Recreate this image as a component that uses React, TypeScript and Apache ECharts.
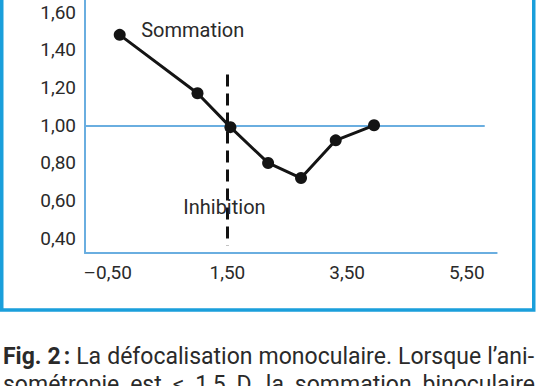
import React, { useEffect, useRef } from "react";
import * as echarts from "echarts";

const xValues = [-0.3, 1.0, 1.55, 2.18, 2.73, 3.31, 3.95];
const yValues = [1.48, 1.17, 0.99, 0.8, 0.72, 0.92, 1.0];
const xTickLabels = [-0.5, 1.5, 3.5, 5.5];
const yTickLabels = [0.4, 0.6, 0.8, 1.0, 1.2, 1.4, 1.6];
const referenceLevel = 1.0;
const referenceLineEnd = 5.8;
const thresholdX = 1.5;
const thresholdRange = [1.27, 0.36];
const annotations = [
  { name: "Sommation", x: 0.92, y: 1.506 },
  { name: "Inhibition", x: 1.45, y: 0.568 },
];
const captionLine1 = [
  { t: "Fig.", bold: true },
  { t: "2\u202f:", bold: true },
  { t: "La" },
  { t: "défocalisation" },
  { t: "monoculaire." },
  { t: "Lorsque" },
  { t: "l’ani-" },
];
const captionLine2 = [
  { t: "sométropie" },
  { t: "est" },
  { t: "≤" },
  { t: "1,5" },
  { t: "D," },
  { t: "la" },
  { t: "sommation" },
  { t: "binoculaire" },
];

const X_MIN = -0.88;
const X_MAX = 6.0;
const Y_MIN = 0.322;
const Y_MAX = 1.665;

const FONT = "Roboto";
const TEXT_COLOR = "#2a2a2a";
const AXIS_BLUE = "#6aaee0";
const FRAME_BLUE = "#1a9fdb";
const CAPTION_SIZE = 23;

const fmt = (v: number) => v.toFixed(2).replace(".", ",").replace("-", "–");

function justify(
  words: { t: string; bold?: boolean }[],
  left: number,
  right: number,
  y: number
) {
  const ctx = document.createElement("canvas").getContext("2d")!;
  const widths = words.map((w) => {
    ctx.font = `${w.bold ? "bold" : "normal"} ${CAPTION_SIZE}px ${FONT}`;
    return ctx.measureText(w.t).width;
  });
  const total = widths.reduce((a, b) => a + b, 0);
  const gap = (right - left - total) / (words.length - 1);
  let x = left;
  return words.map((w, i) => {
    const el = {
      type: "text",
      x,
      y,
      silent: true,
      style: {
        text: w.t,
        fontFamily: FONT,
        fontSize: CAPTION_SIZE,
        fontWeight: w.bold ? "bold" : "normal",
        fill: TEXT_COLOR,
        verticalAlign: "middle",
      },
    };
    x += widths[i] + gap;
    return el;
  });
}

export default function App() {
  const ref = useRef<HTMLDivElement>(null);
  useEffect(() => {
    if (!ref.current) return;
    const chart = echarts.init(ref.current, null, { renderer: "svg" });
    const data = xValues.map((x, i) => [x, yValues[i]]);
    chart.setOption({
      animation: false,
      backgroundColor: "#ffffff",
      grid: { left: 85, right: 39.3, top: 0, bottom: 133, outerBoundsMode: "none" },
      xAxis: {
        type: "value",
        min: X_MIN,
        max: X_MAX,
        splitLine: { show: false },
        axisLine: { show: true, onZero: false, lineStyle: { color: AXIS_BLUE, width: 2 } },
        axisTick: { show: false },
        axisLabel: {
          customValues: xTickLabels,
          formatter: (v: number) => fmt(v),
          color: TEXT_COLOR,
          fontFamily: FONT,
          fontSize: 19,
          margin: 10,
        },
      },
      yAxis: {
        type: "value",
        min: Y_MIN,
        max: Y_MAX,
        splitLine: { show: false },
        axisLine: { show: true, onZero: false, lineStyle: { color: AXIS_BLUE, width: 2 } },
        axisTick: { show: false },
        axisLabel: {
          customValues: yTickLabels,
          formatter: (v: number) => fmt(v),
          color: TEXT_COLOR,
          fontFamily: FONT,
          fontSize: 19,
          margin: 9,
          padding: [5, 0, 0, 0],
        },
      },
      series: [
        {
          type: "line",
          data: [],
          silent: true,
          markLine: {
            symbol: "none",
            silent: true,
            label: { show: false },
            data: [
              [
                { coord: [X_MIN, referenceLevel], lineStyle: { color: AXIS_BLUE, width: 2, type: "solid" } },
                { coord: [referenceLineEnd, referenceLevel] },
              ],
              [
                { coord: [thresholdX, thresholdRange[0]], lineStyle: { color: "#111111", width: 3, type: [12, 7] } },
                { coord: [thresholdX, thresholdRange[1]] },
              ],
            ],
          },
          markPoint: {
            symbol: "circle",
            symbolSize: 0,
            silent: true,
            data: annotations.map((a) => ({
              coord: [a.x, a.y],
              label: {
                show: true,
                formatter: a.name,
                position: "inside",
                color: TEXT_COLOR,
                fontFamily: FONT,
                fontSize: 20,
              },
            })),
          },
        },
        {
          type: "line",
          data,
          symbol: "circle",
          symbolSize: 12,
          itemStyle: { color: "#141414" },
          lineStyle: { color: "#141414", width: 3 },
          z: 5,
        },
      ],
      graphic: [
        {
          type: "rect",
          shape: { x: 1.75, y: -10, width: 532, height: 320 },
          style: { fill: "none", stroke: FRAME_BLUE, lineWidth: 3.5 },
          silent: true,
        },
        ...justify(captionLine1, 3, 534, 356),
        ...justify(captionLine2, 3, 535, 384),
      ],
    });
    return () => chart.dispose();
  }, []);
  return (
    <div
      ref={ref}
      style={{ position: "absolute", left: 0, top: 0, width: 536, height: 386 }}
    />
  );
}
